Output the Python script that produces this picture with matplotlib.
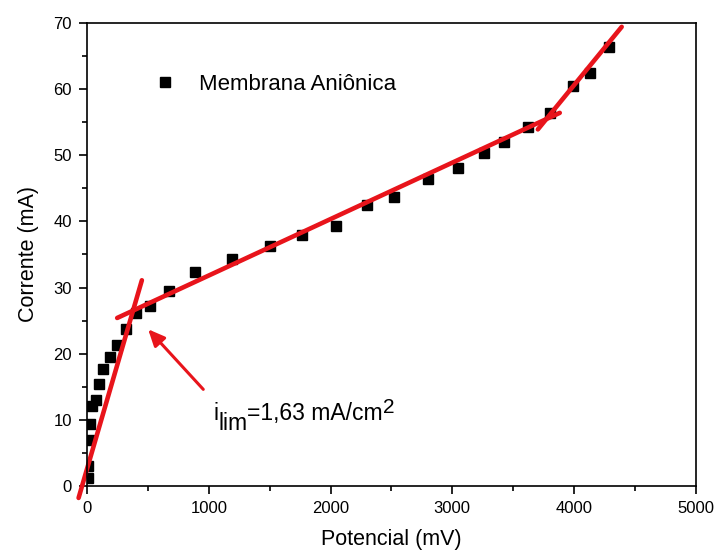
import numpy as np
import matplotlib.pyplot as plt
from matplotlib.ticker import MultipleLocator
from matplotlib.transforms import offset_copy

plt.rcParams['font.family'] = ['Liberation Sans', 'DejaVu Sans']

# measured points (potential in mV, current in mA)
potencial = [10, 10, 11, 19, 39, 68, 96, 126, 189, 244, 320, 397, 517, 671, 887, 1188,
             1502, 1765, 2044, 2299, 2520, 2800, 3046, 3259, 3424, 3621, 3801, 3990,
             4130, 4286]
corrente = [1.2, 3.0, 7.0, 9.4, 12.1, 13.0, 15.4, 17.7, 19.5, 21.3, 23.8, 26.2, 27.2,
            29.5, 32.4, 34.3, 36.3, 38.0, 39.3, 42.5, 43.7, 46.4, 48.1, 50.4, 52.0,
            54.3, 56.4, 60.4, 62.5, 66.4]

# hand drawn fit lines (start, end)
fit1_x = [-71, 449]
fit1_y = [-1.8, 31.1]
fit2_x = [246, 3883]
fit2_y = [25.4, 56.4]
fit3_x = [3703, 4392]
fit3_y = [53.9, 69.4]

red = '#e8141b'
fs = 15.5

fig = plt.figure(figsize=(7.15, 5.58), dpi=100)
ax = fig.add_axes([0.122, 0.129, 0.851, 0.830])

ax.plot(potencial, corrente, 's', color='black', ms=7, label='Membrana Aniônica')
for fx, fy in [(fit1_x, fit1_y), (fit2_x, fit2_y), (fit3_x, fit3_y)]:
    ax.plot(fx, fy, '-', color=red, lw=3.3, clip_on=False, solid_capstyle='round')

ax.annotate('', xy=(485, 24.0), xytext=(969, 14.3),
            arrowprops=dict(arrowstyle='-|>,head_length=1.0,head_width=0.45',
                            color=red, lw=2.2))

# i_lim label, sub/superscript at nearly full size like the original
r = fig.canvas.get_renderer()
x_off = 0
for s, dy, size in [('i', 0, 16.5), ('lim', -10, 16.5), ('=1,63 mA/cm', 0, 16.5), ('2', 7, 15)]:
    t = ax.text(1034, 10.0, s, fontsize=size, va='baseline', ha='left',
                transform=offset_copy(ax.transData, fig=fig, x=x_off, y=dy, units='dots'))
    x_off += t.get_window_extent(r).width

ax.set_xlim(0, 5000)
ax.set_ylim(0, 70)
ax.xaxis.set_major_locator(MultipleLocator(1000))
ax.xaxis.set_minor_locator(MultipleLocator(500))
ax.yaxis.set_major_locator(MultipleLocator(10))
ax.yaxis.set_minor_locator(MultipleLocator(5))
ax.tick_params(which='major', direction='out', length=6, width=1.2, labelsize=12, pad=5)
ax.tick_params(which='minor', direction='out', length=3.5, width=1.2)
for s in ax.spines.values():
    s.set_linewidth(1.2)

ax.set_xlabel('Potencial (mV)', fontsize=fs, labelpad=9)
ax.set_ylabel('Corrente (mA)', fontsize=fs, labelpad=10)

ax.legend(loc='center left', bbox_to_anchor=(0.109, 0.868), frameon=False,
          fontsize=16, borderpad=0, borderaxespad=0, handlelength=1.0,
          handletextpad=1.05)

fig.savefig('out.png', dpi=100)
